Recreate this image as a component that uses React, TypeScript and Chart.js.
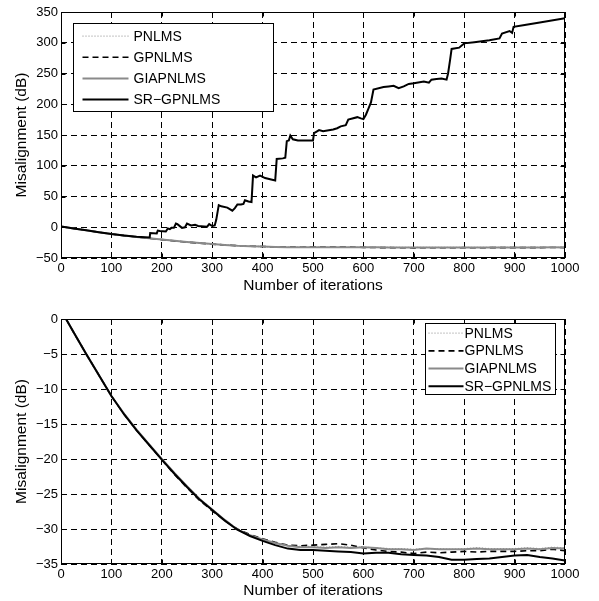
import React, { useEffect, useRef } from "react";
import { Chart, registerables } from "chart.js";

Chart.register(...registerables);

// ---------- DATA ----------
const xTicks = [0, 100, 200, 300, 400, 500, 600, 700, 800, 900, 1000];
const yTicksTop = [-50, 0, 50, 100, 150, 200, 250, 300, 350];
const yTicksBottom = [-35, -30, -25, -20, -15, -10, -5, 0];
const seriesNames = ["PNLMS", "GPNLMS", "GIAPNLMS", "SR\u2212GPNLMS"];

const convIter = [0, 10, 25, 50, 75, 100, 125, 150, 175, 200, 225, 250, 275, 300, 325, 350, 375, 400, 425, 450, 475, 500, 525, 550, 575, 600, 625, 650, 675, 700, 725, 750, 775, 800, 825, 850, 875, 900, 925, 950, 975, 1000];

const pnlms = [1.2, 0, -1.9, -5.0, -8.0, -11.0, -13.5, -15.8, -17.9, -20.0, -22.0, -23.9, -25.7, -27.2, -28.7, -30.0, -30.9, -31.5, -32.0, -32.4, -32.5, -32.5, -32.6, -32.5, -32.6, -32.6, -32.7, -32.8, -32.8, -32.9, -32.8, -32.8, -32.9, -32.8, -32.7, -32.8, -32.8, -32.8, -32.7, -32.8, -32.6, -32.7];
const gpnlms = [1.2, 0, -1.9, -5.0, -8.0, -11.0, -13.6, -15.9, -18.0, -20.1, -22.2, -24.1, -25.9, -27.4, -28.8, -30.0, -30.8, -31.4, -31.9, -32.3, -32.4, -32.3, -32.2, -32.1, -32.3, -32.7, -33.0, -33.2, -33.3, -33.5, -33.3, -33.4, -33.3, -33.2, -33.3, -33.2, -33.2, -33.2, -33.1, -33.1, -32.9, -33.1];
const giapnlms = [1.2, 0, -1.9, -5.0, -8.0, -11.0, -13.5, -15.8, -17.9, -20.0, -22.0, -23.9, -25.7, -27.2, -28.7, -30.1, -30.9, -31.5, -32.0, -32.4, -32.6, -32.6, -32.7, -32.6, -32.7, -32.6, -32.7, -32.9, -32.9, -33.0, -32.8, -32.9, -32.9, -32.9, -32.8, -32.9, -32.9, -32.9, -32.8, -32.9, -32.7, -32.8];
const srGpnlmsStable = [1.2, 0, -1.9, -5.0, -8.0, -11.0, -13.6, -15.9, -18.0, -20.1, -22.1, -24.0, -25.8, -27.3, -28.8, -30.1, -31.0, -31.7, -32.3, -32.8, -33.0, -33.0, -33.1, -33.2, -33.3, -33.5, -33.4, -33.4, -33.6, -33.7, -33.8, -34.0, -34.4, -34.4, -34.3, -34.2, -34.0, -33.8, -33.7, -34.0, -34.2, -34.5];

const srTopIter = [0, 10, 25, 50, 75, 100, 125, 150, 176, 177, 190, 192, 196, 208, 212, 216, 219, 224, 228, 231, 240, 246, 250, 258, 266, 272, 290, 294, 300, 305, 308, 313, 318, 330, 340, 345, 350, 357, 362, 365, 372, 378, 381, 387, 395, 405, 415, 425, 428, 440, 445, 448, 452, 455, 460, 470, 500, 502, 508, 512, 520, 540, 548, 555, 565, 570, 588, 595, 600, 605, 610, 615, 620, 640, 650, 660, 670, 680, 690, 700, 720, 730, 735, 745, 755, 765, 768, 772, 775, 790, 800, 820, 850, 870, 875, 890, 895, 898, 920, 950, 1000];
const srTopVal = [1.2, 0, -1.9, -5.0, -8.0, -11.0, -13.5, -15.5, -16.5, -9.5, -10, -5.5, -6, -7, -2, -3, -1, -1, 6, 5, -1, 0, 6, 3, 4, 2, 1, 5, 2, 3, 12, 36, 34, 32, 27, 31, 37, 37, 38, 44, 42, 41, 84, 81, 84, 80, 78, 76, 111, 112, 113, 140, 141, 149, 143, 141, 141, 153, 156, 158, 156, 159, 161, 164, 166, 175, 179, 177, 176, 183, 193, 203, 224, 228, 229, 230, 226, 229, 233, 234, 237, 235, 240, 241, 242, 240, 250, 272, 290, 292, 299, 301, 304, 307, 315, 319, 316, 326, 329, 333, 340];

// ---------- HELPERS ----------
const FONT = "'Liberation Sans', Arial, Helvetica, sans-serif";
const pts = (xs: number[], ys: number[]) => xs.map((x, i) => ({ x, y: ys[i] }));
const fmt = (v: number) => (v < 0 ? "\u2212" + Math.abs(v) : String(v));

const styles = [
  { borderColor: "#a0a0a0", borderWidth: 1.3, borderDash: [1, 2], order: 3 },
  { borderColor: "#000000", borderWidth: 1.6, borderDash: [6, 4], order: 2 },
  { borderColor: "#8a8a8a", borderWidth: 2, borderDash: [], order: 1 },
  { borderColor: "#000000", borderWidth: 2, borderDash: [], order: 0 },
];

const framePlugin = {
  id: "frame",
  afterDraw(chart: any, _args: any, opts: any) {
    const ctx = chart.ctx;
    const { left, right, top, bottom } = chart.chartArea;
    const L = Math.round(left) + 0.5;
    const R = Math.round(right) - 0.5;
    const T = Math.round(top) + 0.5;
    const B = Math.round(bottom) - 0.5;
    ctx.save();
    ctx.setLineDash([]);
    ctx.strokeStyle = "#000";
    ctx.lineWidth = 1;
    ctx.strokeRect(L, T, R - L, B - T);
    // inward ticks
    const tl = 4;
    const xs = chart.scales.x;
    const ys = chart.scales.y;
    ctx.beginPath();
    xs.ticks.forEach((t: any) => {
      const px = Math.round(xs.getPixelForValue(t.value)) + 0.5;
      ctx.moveTo(px, B);
      ctx.lineTo(px, B - tl);
      ctx.moveTo(px, T);
      ctx.lineTo(px, T + tl);
    });
    ys.ticks.forEach((t: any) => {
      const py = Math.round(ys.getPixelForValue(t.value)) + 0.5;
      ctx.moveTo(L, py);
      ctx.lineTo(L + tl, py);
      ctx.moveTo(R, py);
      ctx.lineTo(R - tl, py);
    });
    ctx.stroke();

    // legend
    const lg = opts.legend;
    if (lg) {
      const bx = Math.round(left + lg.x) + 0.5;
      const by = Math.round(top + lg.y) + 0.5;
      ctx.fillStyle = "#fff";
      ctx.fillRect(bx, by, lg.w, lg.h);
      ctx.strokeStyle = "#000";
      ctx.lineWidth = 1;
      ctx.strokeRect(bx, by, lg.w, lg.h);
      ctx.font = `14px ${FONT}`;
      ctx.textBaseline = "middle";
      ctx.textAlign = "left";
      chart.data.datasets.forEach((ds: any, i: number) => {
        const cy = by + lg.firstRow + i * lg.rowH;
        ctx.save();
        ctx.strokeStyle = ds.borderColor;
        ctx.lineWidth = ds.borderWidth;
        ctx.setLineDash(ds.borderDash || []);
        ctx.beginPath();
        ctx.moveTo(bx + lg.lineX0, cy);
        ctx.lineTo(bx + lg.lineX1, cy);
        ctx.stroke();
        ctx.restore();
        ctx.fillStyle = "#000";
        ctx.fillText(ds.label, bx + lg.textX, cy + 0.5);
      });
    }
    ctx.restore();
  },
};

function makeConfig(opts: {
  sets: { x: number[]; y: number[] }[];
  yTicks: number[];
  padTop: number;
  xAxisH: number;
  xTitlePad: number;
  legend: any;
}) {
  const yMin = opts.yTicks[0];
  const yMax = opts.yTicks[opts.yTicks.length - 1];
  const yStep = opts.yTicks[1] - opts.yTicks[0];
  return {
    type: "line",
    data: {
      datasets: opts.sets.map((s, i) => ({
        label: seriesNames[i],
        data: pts(s.x, s.y),
        borderColor: styles[i].borderColor,
        borderWidth: styles[i].borderWidth,
        borderDash: styles[i].borderDash,
        order: styles[i].order,
        pointRadius: 0,
        fill: false,
        tension: 0,
      })),
    },
    options: {
      animation: false,
      responsive: false,
      devicePixelRatio: 1,
      parsing: false,
      layout: { padding: { top: opts.padTop, right: 34, bottom: 0, left: 0 } },
      plugins: {
        legend: { display: false },
        tooltip: { enabled: false },
        frame: { legend: opts.legend },
      },
      scales: {
        x: {
          type: "linear",
          min: xTicks[0],
          max: xTicks[xTicks.length - 1],
          afterBuildTicks: (s: any) => {
            s.ticks = xTicks.map((v) => ({ value: v }));
          },
          afterFit: (s: any) => {
            s.height = opts.xAxisH;
          },
          ticks: {
            color: "#000",
            font: { family: FONT, size: 13 },
            padding: 3,
            maxRotation: 0,
            autoSkip: false,
            callback: (v: number) => fmt(v),
          },
          grid: { color: "#000", lineWidth: 1, drawTicks: false, tickLength: 0 },
          border: { display: false, dash: [6, 4] },
          title: {
            display: true,
            text: "Number of iterations",
            color: "#000",
            font: { family: FONT, size: 15.5 },
            padding: { top: 0, bottom: opts.xTitlePad },
          },
        },
        y: {
          type: "linear",
          min: yMin,
          max: yMax,
          afterBuildTicks: (s: any) => {
            s.ticks = opts.yTicks.map((v) => ({ value: v }));
          },
          afterFit: (s: any) => {
            s.width = 61;
          },
          ticks: {
            color: "#000",
            font: { family: FONT, size: 13 },
            padding: 3,
            stepSize: yStep,
            autoSkip: false,
            callback: (v: number) => fmt(v),
          },
          grid: { color: "#000", lineWidth: 1, drawTicks: false, tickLength: 0 },
          border: { display: false, dash: [6, 4] },
          title: {
            display: true,
            text: "Misalignment (dB)",
            color: "#000",
            font: { family: FONT, size: 15.5 },
            padding: { top: 12, bottom: 0 },
          },
        },
      },
    },
    plugins: [framePlugin],
  } as any;
}

function ChartCanvas({ config, top, height }: { config: any; top: number; height: number }) {
  const ref = useRef<HTMLCanvasElement | null>(null);
  useEffect(() => {
    if (!ref.current) return;
    const c = new Chart(ref.current, config);
    return () => c.destroy();
  }, []);
  return (
    <canvas
      ref={ref}
      width={599}
      height={height}
      style={{ position: "absolute", left: 0, top, width: 599, height, display: "block" }}
    />
  );
}

export default function App() {
  const topConfig = makeConfig({
    sets: [
      { x: convIter, y: pnlms },
      { x: convIter, y: gpnlms },
      { x: convIter, y: giapnlms },
      { x: srTopIter, y: srTopVal },
    ],
    yTicks: yTicksTop,
    padTop: 12,
    xAxisH: 42,
    xTitlePad: 5,
    legend: { x: 11.5, y: 11, w: 200, h: 88, firstRow: 12.7, rowH: 21.1, lineX0: 9, lineX1: 55, textX: 60 },
  });
  const bottomConfig = makeConfig({
    sets: [
      { x: convIter, y: pnlms },
      { x: convIter, y: gpnlms },
      { x: convIter, y: giapnlms },
      { x: convIter, y: srGpnlmsStable },
    ],
    yTicks: yTicksBottom,
    padTop: 19,
    xAxisH: 37,
    xTitlePad: 1,
    legend: { x: 364, y: 4.3, w: 130, h: 71, firstRow: 9.7, rowH: 17.7, lineX0: 3, lineX1: 38, textX: 39 },
  });
  return (
    <div style={{ position: "absolute", left: 0, top: 0, width: 599, height: 601, background: "#fff" }}>
      <ChartCanvas config={topConfig} top={0} height={300} />
      <ChartCanvas config={bottomConfig} top={300} height={301} />
    </div>
  );
}
